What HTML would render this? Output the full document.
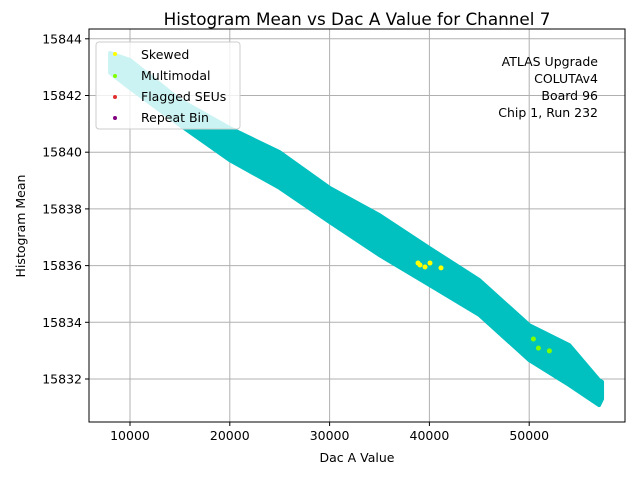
<!DOCTYPE html>
<html><head><meta charset="utf-8"><style>
body{margin:0;background:#fff}
svg text{font-family:"DejaVu Sans","Liberation Sans",sans-serif;fill:#000}
</style></head><body>
<svg id="c" width="640" height="480" xmlns="http://www.w3.org/2000/svg"></svg>
<script>
const bandDac=[8000,10000,15000,20000,25000,30000,35000,40000,45000,50000,54000,57000,57300];
const bandTop=[15843.5,15843.25,15841.84,15840.85,15840.0,15838.74,15837.78,15836.62,15835.49,15833.9,15833.2,15831.96,15831.9];
const bandBottom=[15842.8,15842.26,15840.96,15839.72,15838.74,15837.54,15836.37,15835.32,15834.26,15832.67,15831.79,15831.08,15831.3];
const skewedDac=[38858,39058,39559,40060,41162];
const skewedMean=[15836.09,15836.02,15835.95,15836.09,15835.92];
const multiDac=[50421,50922,52024];
const multiMean=[15833.41,15833.09,15832.99];
const xTicks=[10000,20000,30000,40000,50000];
const yTicks=[15832,15834,15836,15838,15840,15842,15844];
const L=89,R=625,T=29,B=422;
const sx=v=>30.2+v*0.00998;
const sy=v=>379-(v-15832)*28.35;
const svg=document.getElementById('c');
const NS='http://www.w3.org/2000/svg';
function mk(t,a,p){const e=document.createElementNS(NS,t);for(const k in a)e.setAttribute(k,a[k]);(p||svg).appendChild(e);return e;}
xTicks.forEach(v=>{const l=mk('line',{x1:sx(v),x2:sx(v),y1:T,y2:B,stroke:'#b0b0b0','stroke-width':1});

});
yTicks.forEach(v=>{const l=mk('line',{x1:L,x2:R,y1:sy(v),y2:sy(v),stroke:'#b0b0b0','stroke-width':1});

});
let pts=[];
bandDac.forEach((d,i)=>pts.push(sx(d)+','+sy(bandTop[i])));
for(let i=bandDac.length-1;i>=0;i--)pts.push(sx(bandDac[i])+','+sy(bandBottom[i]));
const band=mk('polygon',{points:pts.join(' '),fill:'#00c0c0',stroke:'#00c0c0','stroke-width':4,'stroke-linejoin':'round'});


skewedDac.forEach((d,i)=>{const c=mk('circle',{cx:sx(d),cy:sy(skewedMean[i]),r:2.5,fill:'#ffff00'});

});
multiDac.forEach((d,i)=>{const c=mk('circle',{cx:sx(d),cy:sy(multiMean[i]),r:2.5,fill:'#7fff00'});

});
const fr=mk('rect',{x:L,y:T,width:R-L,height:B-T,fill:'none',stroke:'#000','stroke-width':1});


xTicks.forEach(v=>{mk('line',{x1:sx(v),x2:sx(v),y1:B,y2:B+4,stroke:'#000'});
const t=mk('text',{x:sx(v),y:B+18,'text-anchor':'middle','font-size':12.5});t.textContent=v;

});
yTicks.forEach(v=>{mk('line',{x1:L-4,x2:L,y1:sy(v),y2:sy(v),stroke:'#000'});
const t=mk('text',{x:L-7,y:sy(v)+4.5,'text-anchor':'end','font-size':12.5});t.textContent=v;

});
</script>
<svg width="640" height="480" style="position:absolute;left:0;top:0" xmlns="http://www.w3.org/2000/svg">
<text x="357" y="25" text-anchor="middle" font-size="16.8">Histogram Mean vs Dac A Value for Channel 7</text>
<text x="357" y="462" text-anchor="middle" font-size="12.5">Dac A Value</text>
<text transform="translate(25,226) rotate(-90)" text-anchor="middle" font-size="12.5">Histogram Mean</text>
<g>
<rect x="96" y="42" width="144" height="87" rx="3" fill="rgba(255,255,255,0.8)" stroke="#ccc"/>
<circle cx="115" cy="54" r="2" fill="#ffff00"/><text x="141" y="59" font-size="12.5">Skewed</text>
<circle cx="115" cy="76" r="2" fill="#7fff00"/><text x="141" y="80" font-size="12.5">Multimodal</text>
<circle cx="115" cy="97" r="2" fill="#e03030"/><text x="141" y="101" font-size="12.5">Flagged SEUs</text>
<circle cx="115" cy="118" r="2" fill="#800080"/><text x="141" y="122" font-size="12.5">Repeat Bin</text>
</g>
<g font-size="12.5" text-anchor="end">
<text x="598" y="66">ATLAS Upgrade</text>
<text x="598" y="83">COLUTAv4</text>
<text x="598" y="100">Board 96</text>
<text x="598" y="117">Chip 1, Run 232</text>
</g>
</svg>
</body></html>
